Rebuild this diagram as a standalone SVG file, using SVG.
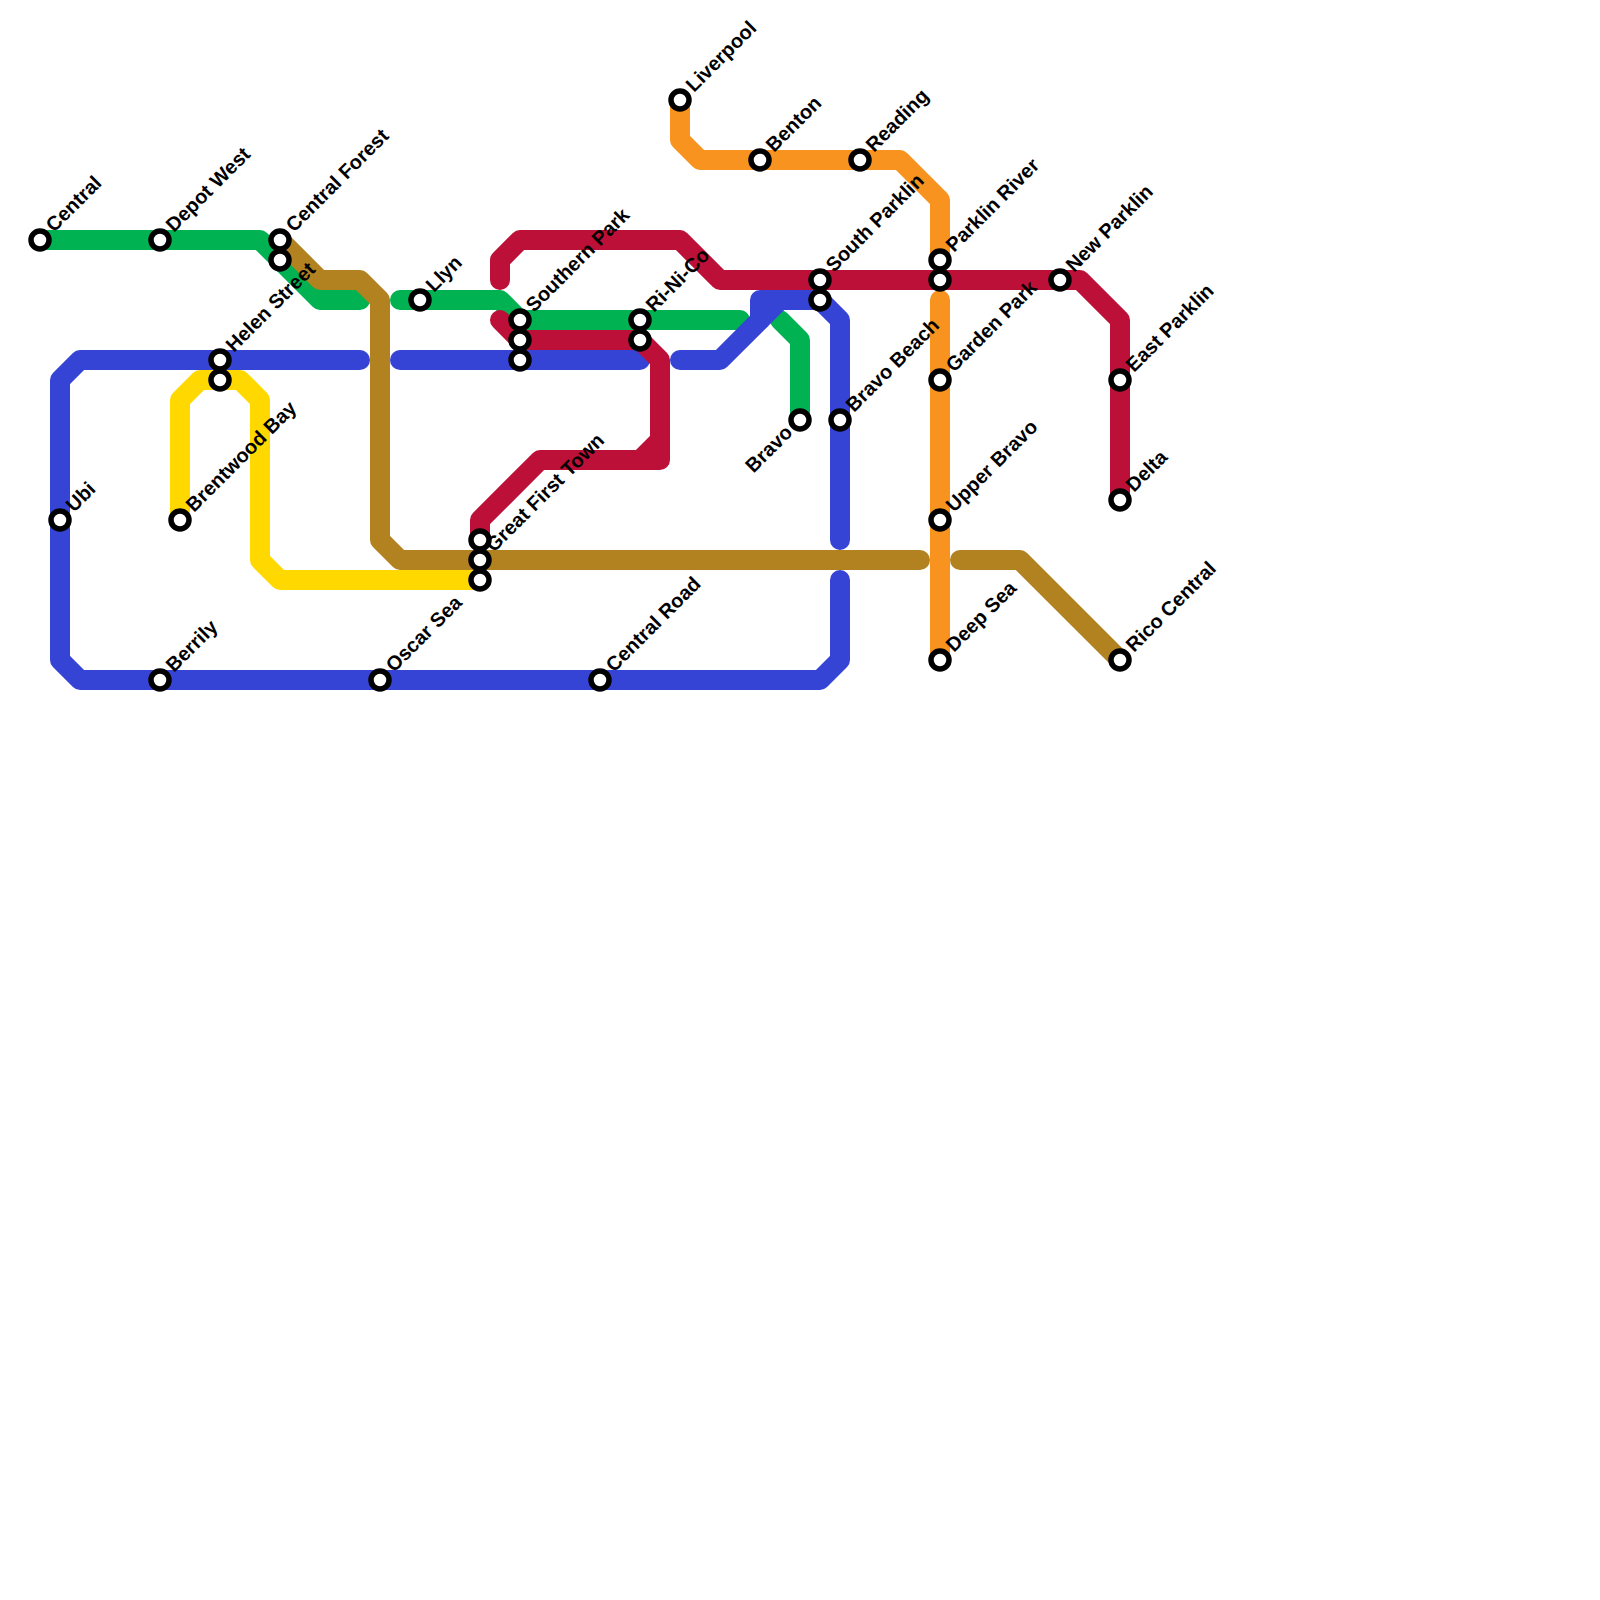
<svg xmlns="http://www.w3.org/2000/svg" width="1600" height="1600" viewBox="0 0 1600 1600">
<style>
.l{fill:none;stroke-width:20;stroke-linecap:round;stroke-linejoin:round}
.g{stroke:#00b251}.y{stroke:#ffd800}.b{stroke:#3644d6}.r{stroke:#bd1038}.o{stroke:#f7931e}.n{stroke:#b28221}
.s{fill:#fff;stroke:#000;stroke-width:5.5}
text{font-family:"Liberation Sans",Arial,sans-serif;font-weight:700;font-size:20px;fill:#000}
</style>
<rect width="1600" height="1600" fill="#fff"/>
<g id="connectors">
<path class="l g" d="M40 240H260L320 300H360"/>
<path class="l g" d="M400 300H500L520 320H740"/>
<path class="l g" d="M780 320L800 340V420"/>
<path class="l y" d="M180 520V400L200 380H240L260 400V560L280 580H480"/>
<path class="l b" d="M360 360H80L60 380V660L80 680H820L840 660V580"/>
<path class="l b" d="M400 360H640"/>
<path class="l b" d="M680 360H720L780 300H820L840 320V540"/>
<path class="l b" d="M760 320V300H780"/>
<path class="l r" d="M500 280V260L520 240H680L720 280H1080L1120 320V500"/>
<path class="l r" d="M500 320L520 340H640L660 360V460H540L480 520V540"/>
<path class="l r" d="M660 440L640 460"/>
<path class="l n" d="M280 240L320 280H360L380 300V540L400 560H920"/>
<path class="l n" d="M960 560H1020L1120 660"/>
<path class="l o" d="M680 100V140L700 160H900L940 200V260"/>
<path class="l o" d="M940 300V660"/>
</g>
<g id="n-central"><circle class="s" cx="40" cy="240" r="9"/><text transform="translate(54 233) rotate(-45)">Central</text></g>
<g id="n-depot-west"><circle class="s" cx="160" cy="240" r="9"/><text transform="translate(174 233) rotate(-45)">Depot West</text></g>
<g id="n-central-forest"><circle class="s" cx="280" cy="240" r="9"/><circle class="s" cx="280" cy="260" r="9"/><text transform="translate(294 233) rotate(-45)">Central Forest</text></g>
<g id="n-helen-street"><circle class="s" cx="220" cy="360" r="9"/><circle class="s" cx="220" cy="380" r="9"/><text transform="translate(234 353) rotate(-45)">Helen Street</text></g>
<g id="n-brentwood-bay"><circle class="s" cx="180" cy="520" r="9"/><text transform="translate(194 513) rotate(-45)">Brentwood Bay</text></g>
<g id="n-llyn"><circle class="s" cx="420" cy="300" r="9"/><text transform="translate(434 293) rotate(-45)">Llyn</text></g>
<g id="n-ubi"><circle class="s" cx="60" cy="520" r="9"/><text transform="translate(74 513) rotate(-45)">Ubi</text></g>
<g id="n-berrily"><circle class="s" cx="160" cy="680" r="9"/><text transform="translate(174 673) rotate(-45)">Berrily</text></g>
<g id="n-oscar-sea"><circle class="s" cx="380" cy="680" r="9"/><text transform="translate(394 673) rotate(-45)">Oscar Sea</text></g>
<g id="n-central-road"><circle class="s" cx="600" cy="680" r="9"/><text transform="translate(614 673) rotate(-45)">Central Road</text></g>
<g id="n-great-first-town"><circle class="s" cx="480" cy="540" r="9"/><circle class="s" cx="480" cy="560" r="9"/><circle class="s" cx="480" cy="580" r="9"/><text transform="translate(494 553) rotate(-45)">Great First Town</text></g>
<g id="n-southern-park"><circle class="s" cx="520" cy="320" r="9"/><circle class="s" cx="520" cy="340" r="9"/><circle class="s" cx="520" cy="360" r="9"/><text transform="translate(534 313) rotate(-45)">Southern Park</text></g>
<g id="n-ri-ni-co"><circle class="s" cx="640" cy="320" r="9"/><circle class="s" cx="640" cy="340" r="9"/><text transform="translate(654 313) rotate(-45)">Ri-Ni-Co</text></g>
<g id="n-liverpool"><circle class="s" cx="680" cy="100" r="9"/><text transform="translate(694 93) rotate(-45)">Liverpool</text></g>
<g id="n-benton"><circle class="s" cx="760" cy="160" r="9"/><text transform="translate(774 153) rotate(-45)">Benton</text></g>
<g id="n-reading"><circle class="s" cx="860" cy="160" r="9"/><text transform="translate(874 153) rotate(-45)">Reading</text></g>
<g id="n-south-parklin"><circle class="s" cx="820" cy="280" r="9"/><circle class="s" cx="820" cy="300" r="9"/><text transform="translate(834 273) rotate(-45)">South Parklin</text></g>
<g id="n-parklin-river"><circle class="s" cx="940" cy="260" r="9"/><circle class="s" cx="940" cy="280" r="9"/><text transform="translate(954 253) rotate(-45)">Parklin River</text></g>
<g id="n-new-parklin"><circle class="s" cx="1060" cy="280" r="9"/><text transform="translate(1074 273) rotate(-45)">New Parklin</text></g>
<g id="n-garden-park"><circle class="s" cx="940" cy="380" r="9"/><text transform="translate(954 373) rotate(-45)">Garden Park</text></g>
<g id="n-east-parklin"><circle class="s" cx="1120" cy="380" r="9"/><text transform="translate(1134 373) rotate(-45)">East Parklin</text></g>
<g id="n-delta"><circle class="s" cx="1120" cy="500" r="9"/><text transform="translate(1134 493) rotate(-45)">Delta</text></g>
<g id="n-upper-bravo"><circle class="s" cx="940" cy="520" r="9"/><text transform="translate(954 513) rotate(-45)">Upper Bravo</text></g>
<g id="n-deep-sea"><circle class="s" cx="940" cy="660" r="9"/><text transform="translate(954 653) rotate(-45)">Deep Sea</text></g>
<g id="n-rico-central"><circle class="s" cx="1120" cy="660" r="9"/><text transform="translate(1134 653) rotate(-45)">Rico Central</text></g>
<g id="n-bravo-beach"><circle class="s" cx="840" cy="420" r="9"/><text transform="translate(854 413) rotate(-45)">Bravo Beach</text></g>
<g id="n-bravo"><circle class="s" cx="800" cy="420" r="9"/><text transform="translate(788 428) rotate(-45)" text-anchor="end" dy="8">Bravo</text></g>
</svg>
